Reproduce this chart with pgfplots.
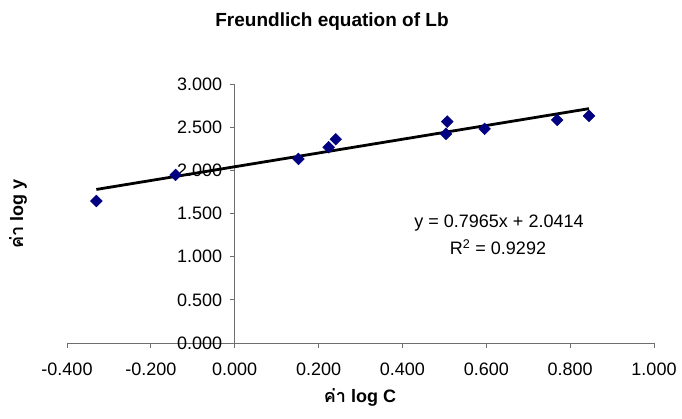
\documentclass[border=0pt]{standalone}
\usepackage{fontspec}
\setmainfont{Liberation Sans}
\newfontfamily\thaifont[Script=Thai]{Loma}
\usepackage{pgfplots}
\pgfplotsset{compat=1.18}

\definecolor{markblue}{RGB}{0,0,128}
\definecolor{axisgray}{RGB}{110,110,110}

\begin{document}
\begin{tikzpicture}[x=1pt,y=1pt]
\useasboundingbox (0,0) rectangle (682,419);
\begin{axis}[
  at={(67pt,76pt)}, anchor=south west,
  scale only axis, width=587pt, height=259pt,
  xmin=-0.4, xmax=1.0, ymin=0, ymax=3,
  axis lines=middle,
  axis line style={-, axisgray, line width=0.9pt},
  hide obscured x ticks=false, hide obscured y ticks=false,
  xtick={-0.4,-0.2,0,0.2,0.4,0.6,0.8,1.0},
  ytick={0,0.5,1,1.5,2,2.5,3},
  tick align=outside, major tick length=5pt,
  tick style={axisgray, line width=0.9pt},
  /pgf/number format/.cd, fixed, fixed zerofill, precision=3, assume math mode=true,
  /pgfplots/.cd,
  tick label style={font=\fontsize{18}{20}\selectfont},
  xticklabel style={yshift=-11pt},
  yticklabel style={xshift=-4pt},
  clip=false,
]
% measured isotherm points
\addplot[only marks, mark=square*, mark size=4.2pt, color=markblue,
  mark options={rotate=45, fill=markblue, draw=markblue}] coordinates {
  (-0.330,1.645) (-0.141,1.947) (0.152,2.132) (0.224,2.268) (0.241,2.360)
  (0.507,2.564) (0.504,2.422) (0.596,2.480) (0.769,2.584) (0.845,2.630)
};
% linear trend line y = 0.7965x + 2.0414
\addplot[black, line width=2.8pt] coordinates {(-0.330,1.7786) (0.845,2.7144)};
\end{axis}
\node[anchor=base, font=\bfseries\fontsize{19}{22}\selectfont] at (332,392) {Freundlich equation of Lb};
\node[rotate=90, font=\bfseries\fontsize{18}{20}\selectfont] at (18,205) {{\thaifont ค่า} log y};
\node[font=\bfseries\fontsize{18}{20}\selectfont] at (360,22) {{\thaifont ค่า} log C};
\node[font=\fontsize{18}{20}\selectfont] at (499,196) {y = 0.7965x + 2.0414};
\node[font=\fontsize{18}{20}\selectfont] at (498,172) {R\textsuperscript{2} = 0.9292};
\end{tikzpicture}
\end{document}
